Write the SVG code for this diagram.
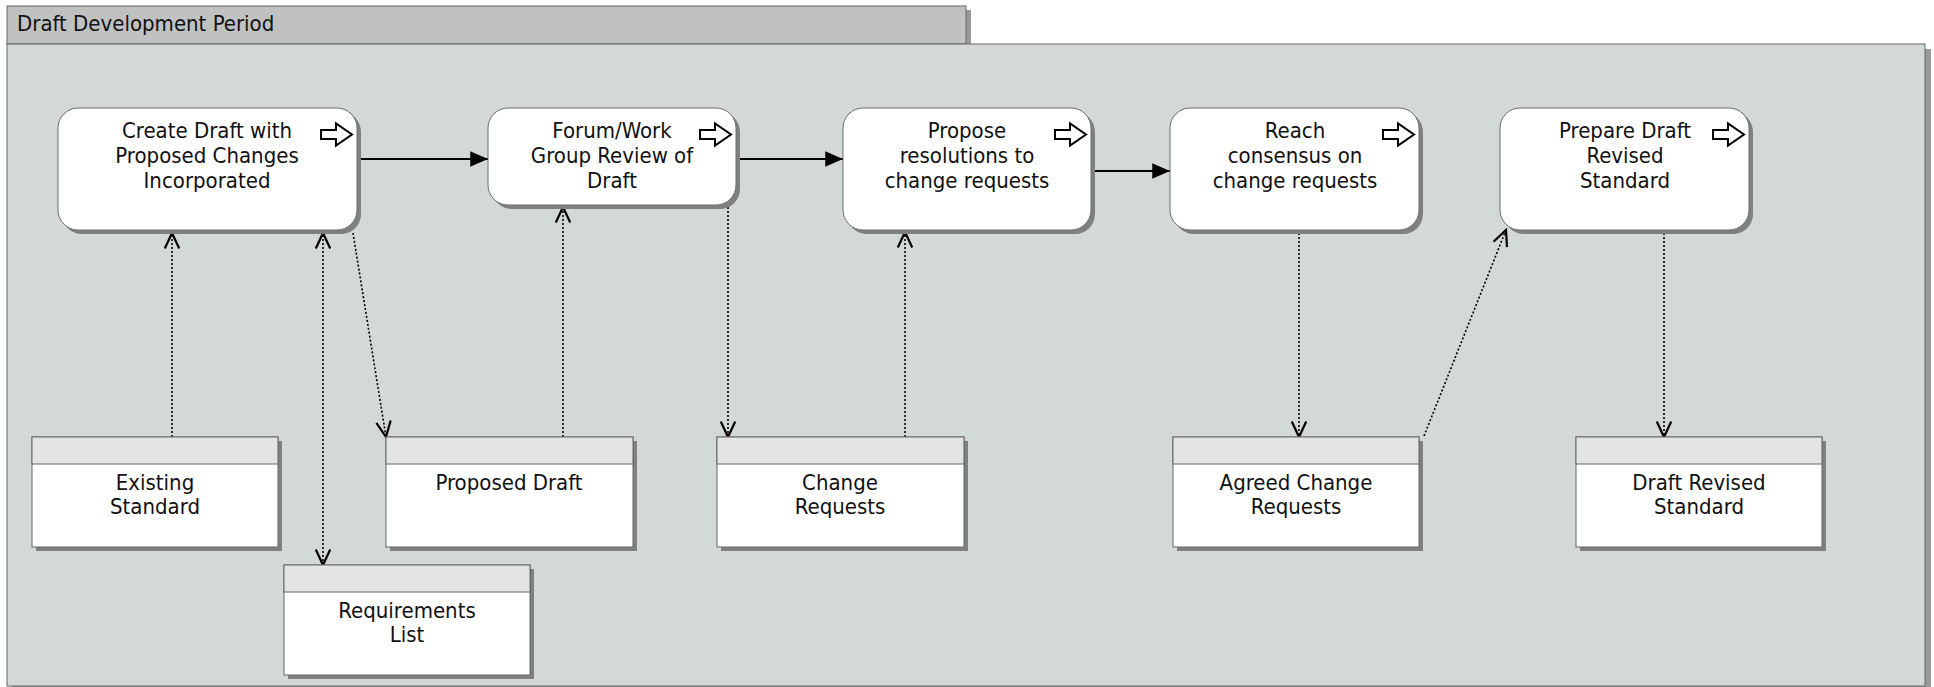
<svg xmlns="http://www.w3.org/2000/svg" width="1934" height="687" viewBox="0 0 1934 687">
<defs>
<style>
.t{font-family:"DejaVu Sans Condensed","DejaVu Sans",sans-serif;font-size:22px;fill:#111;text-anchor:middle}
.title{font-family:"DejaVu Sans Condensed","DejaVu Sans",sans-serif;font-size:22px;fill:#111}
.proc{fill:#fff;stroke:#6f6f6f;stroke-width:1}
.shadow{fill:#808080}
.dbox{fill:#fff;stroke:#666;stroke-width:1}
.dhead{fill:#e4e4e4;stroke:#666;stroke-width:1}
.solid{stroke:#000;stroke-width:2;fill:none}
.dot{stroke:#000;stroke-width:1.6;fill:none;stroke-dasharray:2 2}
.icon{fill:#fff;stroke:#000;stroke-width:2;stroke-linejoin:miter}
</style>
<marker id="fill" markerUnits="userSpaceOnUse" markerWidth="20" markerHeight="20" viewBox="-17 -8 18 16" refX="0" refY="0" orient="auto">
<path d="M-16,-7 L0,0 L-16,7 Z" fill="#000"/>
</marker>
<marker id="open" markerUnits="userSpaceOnUse" markerWidth="20" markerHeight="20" viewBox="-16 -9 18 18" refX="0" refY="0" orient="auto">
<path d="M-14,-6.5 L0,0 L-14,6.5" fill="none" stroke="#000" stroke-width="2"/>
</marker>
<marker id="openS" markerUnits="userSpaceOnUse" markerWidth="20" markerHeight="20" viewBox="-2 -9 18 18" refX="0" refY="0" orient="auto">
<path d="M14,-6.5 L0,0 L14,6.5" fill="none" stroke="#000" stroke-width="2"/>
</marker>
<path id="arr" d="M0,-4.5 L15,-4.5 L15,-11 L31,0 L15,11 L15,4.5 L0,4.5 Z"/>
</defs>
<rect width="1934" height="687" fill="#fff"/>
<g id="pool">
<rect x="12" y="10" width="959" height="34" fill="#999"/>
<rect x="7" y="6" width="959" height="38" fill="#bfc2c0" stroke="#666" stroke-width="1"/>
<rect x="12" y="49" width="1919" height="638" fill="#999"/>
<rect x="7" y="44" width="1918" height="642" fill="#d3d9d7" stroke="#666" stroke-width="1"/>
<text class="title" x="17" y="31">Draft Development Period</text>
</g>
<g id="connectors">
<line class="solid" x1="357" y1="159" x2="488" y2="159" marker-end="url(#fill)"/>
<line class="solid" x1="736" y1="159" x2="843" y2="159" marker-end="url(#fill)"/>
<line class="solid" x1="1091" y1="171" x2="1170" y2="171" marker-end="url(#fill)"/>
<line class="dot" x1="172" y1="437" x2="172" y2="233" marker-end="url(#open)"/>
<line class="dot" x1="323" y1="565" x2="323" y2="233" marker-end="url(#open)" marker-start="url(#openS)"/>
<line class="dot" x1="353" y1="233" x2="386" y2="437" marker-end="url(#open)"/>
<line class="dot" x1="563" y1="437" x2="563" y2="207" marker-end="url(#open)"/>
<line class="dot" x1="728" y1="207" x2="728" y2="437" marker-end="url(#open)"/>
<line class="dot" x1="905" y1="437" x2="905" y2="232" marker-end="url(#open)"/>
<line class="dot" x1="1299" y1="233" x2="1299" y2="437" marker-end="url(#open)"/>
<line class="dot" x1="1424" y1="436" x2="1506" y2="230" marker-end="url(#open)"/>
<line class="dot" x1="1664" y1="233" x2="1664" y2="437" marker-end="url(#open)"/>
</g>
<g id="p1">
<rect class="shadow" x="62" y="112" width="299" height="122" rx="20"/>
<rect class="proc" x="58" y="108" width="299" height="122" rx="20"/>
<use href="#arr" x="321" y="134.5" class="icon"/>
<text class="t" x="207" y="138">Create Draft with</text>
<text class="t" x="207" y="163">Proposed Changes</text>
<text class="t" x="207" y="188">Incorporated</text>
</g>
<g id="p2">
<rect class="shadow" x="492" y="112" width="248" height="97" rx="20"/>
<rect class="proc" x="488" y="108" width="248" height="97" rx="20"/>
<use href="#arr" x="700" y="134.5" class="icon"/>
<text class="t" x="612" y="138">Forum/Work</text>
<text class="t" x="612" y="163">Group Review of</text>
<text class="t" x="612" y="188">Draft</text>
</g>
<g id="p3">
<rect class="shadow" x="847" y="112" width="248" height="122" rx="20"/>
<rect class="proc" x="843" y="108" width="248" height="122" rx="20"/>
<use href="#arr" x="1055" y="134.5" class="icon"/>
<text class="t" x="967" y="138">Propose</text>
<text class="t" x="967" y="163">resolutions to</text>
<text class="t" x="967" y="188">change requests</text>
</g>
<g id="p4">
<rect class="shadow" x="1174" y="112" width="249" height="122" rx="20"/>
<rect class="proc" x="1170" y="108" width="249" height="122" rx="20"/>
<use href="#arr" x="1383" y="134.5" class="icon"/>
<text class="t" x="1295" y="138">Reach</text>
<text class="t" x="1295" y="163">consensus on</text>
<text class="t" x="1295" y="188">change requests</text>
</g>
<g id="p5">
<rect class="shadow" x="1504" y="112" width="249" height="122" rx="20"/>
<rect class="proc" x="1500" y="108" width="249" height="122" rx="20"/>
<use href="#arr" x="1713" y="134.5" class="icon"/>
<text class="t" x="1625" y="138">Prepare Draft</text>
<text class="t" x="1625" y="163">Revised</text>
<text class="t" x="1625" y="188">Standard</text>
</g>
<g id="d1">
<rect class="shadow" x="36" y="441" width="246" height="110"/>
<rect class="dbox" x="32" y="437" width="246" height="110"/>
<rect class="dhead" x="32" y="437" width="246" height="27"/>
<text class="t" x="155" y="490">Existing</text>
<text class="t" x="155" y="514">Standard</text>
</g>
<g id="d2">
<rect class="shadow" x="390" y="441" width="247" height="110"/>
<rect class="dbox" x="386" y="437" width="247" height="110"/>
<rect class="dhead" x="386" y="437" width="247" height="27"/>
<text class="t" x="509" y="490">Proposed Draft</text>
</g>
<g id="d3">
<rect class="shadow" x="721" y="441" width="247" height="110"/>
<rect class="dbox" x="717" y="437" width="247" height="110"/>
<rect class="dhead" x="717" y="437" width="247" height="27"/>
<text class="t" x="840" y="490">Change</text>
<text class="t" x="840" y="514">Requests</text>
</g>
<g id="d4">
<rect class="shadow" x="1177" y="441" width="246" height="110"/>
<rect class="dbox" x="1173" y="437" width="246" height="110"/>
<rect class="dhead" x="1173" y="437" width="246" height="27"/>
<text class="t" x="1296" y="490">Agreed Change</text>
<text class="t" x="1296" y="514">Requests</text>
</g>
<g id="d5">
<rect class="shadow" x="1580" y="441" width="246" height="110"/>
<rect class="dbox" x="1576" y="437" width="246" height="110"/>
<rect class="dhead" x="1576" y="437" width="246" height="27"/>
<text class="t" x="1699" y="490">Draft Revised</text>
<text class="t" x="1699" y="514">Standard</text>
</g>
<g id="d6">
<rect class="shadow" x="288" y="569" width="246" height="110"/>
<rect class="dbox" x="284" y="565" width="246" height="110"/>
<rect class="dhead" x="284" y="565" width="246" height="27"/>
<text class="t" x="407" y="618">Requirements</text>
<text class="t" x="407" y="642">List</text>
</g>
</svg>
